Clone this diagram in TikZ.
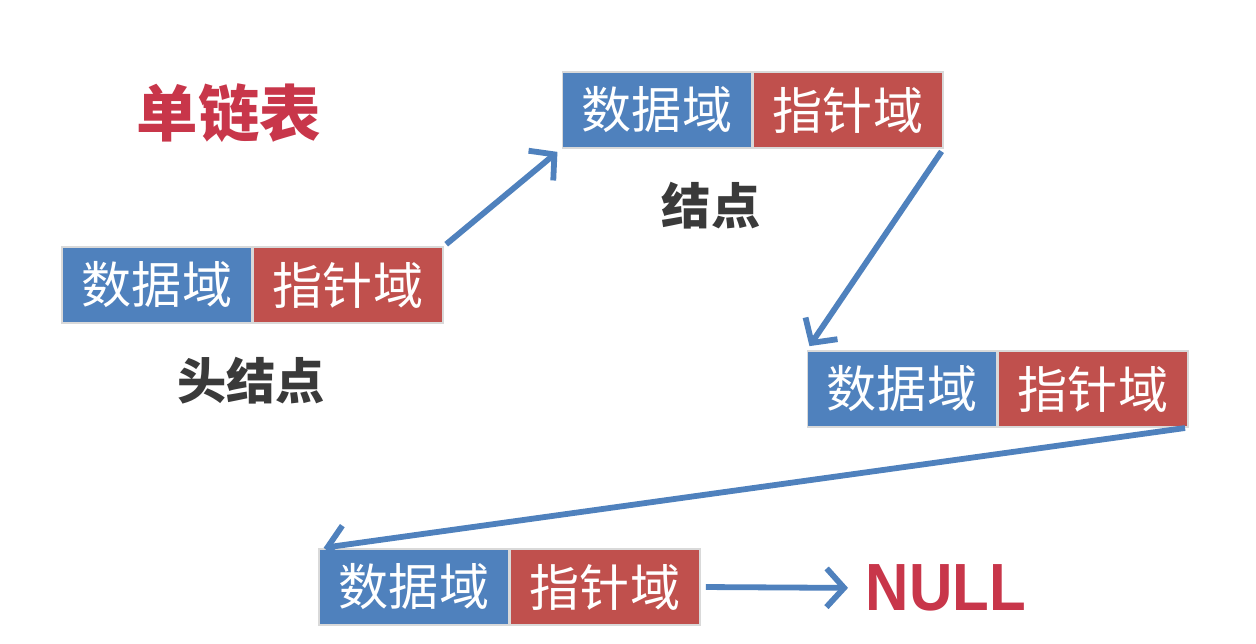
\documentclass[tikz,border=0pt]{standalone}
\usepackage{fontspec}
\usetikzlibrary{arrows.meta}
\newfontfamily\cjk{Noto Sans CJK SC}
\setmainfont{Liberation Sans}
\definecolor{fieldblue}{HTML}{4F81BD}
\definecolor{fieldred}{HTML}{C0504D}
\definecolor{titlered}{HTML}{C8364A}
\definecolor{labelgray}{HTML}{3A3A3A}
\begin{document}
\begin{tikzpicture}[x=0.02cm,y=-0.02cm,
  field/.style={draw=white!85!black, line width=0.6pt, minimum width=3.8cm, minimum height=1.52cm,
    inner sep=0pt, text=white, font=\cjk\fontsize{28.5}{30}\selectfont},
  datafield/.style={field, fill=fieldblue},
  ptrfield/.style={field, fill=fieldred},
  link/.style={draw=fieldblue, line width=3.3pt, -{Straight Barb[length=10pt,width=22pt,line width=3.3pt]}},
  caption/.style={text=labelgray, font=\cjk\bfseries\fontsize{28}{30}\selectfont, inner sep=0pt}
]
\useasboundingbox[fill=white] (0,0) rectangle (1256,644);

% title
\node[text=titlered, font=\cjk\bfseries\fontsize{35}{37}\selectfont, inner sep=0pt] (title) at (229,113) {单链表};

% head node
\node[datafield] (d1) at (157,285) {数据域};
\node[ptrfield]  (p1) at (348,285) {指针域};
\node[caption] (l1) at (251,381) {头结点};

% second node
\node[datafield] (d2) at (657,110) {数据域};
\node[ptrfield]  (p2) at (848,110) {指针域};
\node[caption] (l2) at (711,206) {结点};

% third node
\node[datafield] (d3) at (902,389) {数据域};
\node[ptrfield]  (p3) at (1093,389) {指针域};

% last node
\node[datafield] (d4) at (414,587) {数据域};
\node[ptrfield]  (p4) at (605,587) {指针域};

% terminator
\node[text=titlered, font=\bfseries\fontsize{38}{40}\selectfont, inner sep=0pt, xscale=0.9] (null) at (946,588) {NULL};

% links
\draw[link, shorten <=2pt, shorten >=3pt] (p1.north east) -- (d2.south west);
\draw[link, shorten <=2pt, shorten >=3pt] (p2.south east) -- (d3.north west);
\draw[link, shorten <=2pt, shorten >=3pt] (p3.south east) -- (d4.north west);
\draw[link, shorten <=3pt, shorten >=10pt] (p4.east) -- (null.west);
\end{tikzpicture}
\end{document}
